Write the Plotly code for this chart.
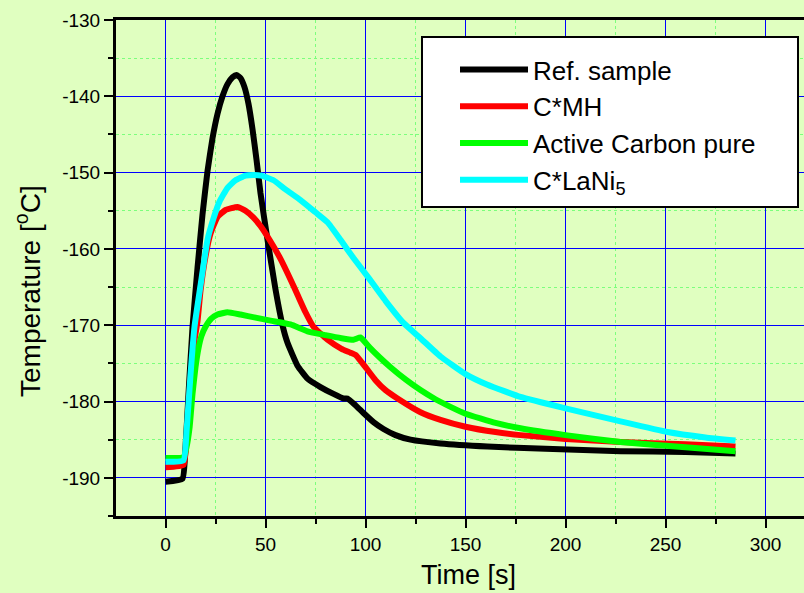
import plotly.graph_objects as go

# ---- data ----
t_ref = [0, 8.5, 10, 11.5, 13.5, 16, 18.5, 21, 23.5, 26, 28.5, 31, 33.5, 35.5, 37.5, 39.5, 41.5,
         43.5, 45.5, 47.5, 51, 55, 58.5, 61, 66, 71, 77.5, 84, 89, 91, 95, 99, 104, 109, 115,
         122.5, 137.5, 161, 190, 227.5, 260, 285]
T_ref = [-190.5, -190.1, -186, -179, -170.3, -162.5, -155.5, -149.8, -145.5, -142.3, -140,
         -138.4, -137.5, -137.2, -137.6, -138.8, -141, -144.3, -148.3, -152.7, -158.8, -165.3,
         -170, -172.3, -175.3, -177, -178.1, -179, -179.6, -179.6, -180.5, -181.5, -182.7,
         -183.6, -184.4, -185, -185.5, -185.9, -186.2, -186.5, -186.6, -186.8]

t_mh = [0, 9, 10.5, 12.5, 14.5, 16, 17.5, 20, 22.5, 26, 30, 36, 40, 44, 47.5, 52, 57.5, 62.5,
        66, 70, 74, 81, 88, 92.5, 95, 100, 105, 110, 116, 127.5, 137.5, 150, 165, 177.5, 200,
        227.5, 260, 285]
T_mh = [-188.6, -188.3, -185, -177, -172, -169.5, -165.5, -161, -158, -155.8, -154.9, -154.5,
        -155, -155.9, -157, -158.8, -161.3, -164, -166, -168.3, -170.2, -171.9, -173.1, -173.6,
        -173.9, -175.5, -177.2, -178.5, -179.6, -181.4, -182.4, -183.3, -184, -184.4, -184.9,
        -185.3, -185.6, -185.9]

t_ac = [0, 9, 10.5, 12, 13.5, 15, 16.5, 18, 20, 23, 26, 31, 37.5, 45, 52.5, 62.5, 71, 80, 88,
        94, 97.5, 102, 107, 112.5, 120, 127.5, 135, 142.5, 150, 165, 177.5, 200, 227.5, 260, 285]
T_ac = [-187.4, -187.3, -186, -183.5, -179, -175.5, -173, -171.4, -170.2, -169.1, -168.6,
        -168.3, -168.6, -169, -169.4, -169.9, -170.8, -171.3, -171.7, -171.9, -171.6, -172.9,
        -174.2, -175.5, -177.1, -178.5, -179.7, -180.7, -181.6, -182.8, -183.5, -184.4, -185.3,
        -186, -186.5]

t_la = [0, 9, 10.5, 12.5, 14.5, 17.5, 21, 24, 27, 31, 35, 40, 44, 48, 54, 60, 67.5, 75, 81,
        87.5, 94, 101, 110, 119, 127.5, 137.5, 150, 161, 177.5, 200, 227.5, 251, 270, 285]
T_la = [-187.9, -187.7, -184, -176.5, -170.2, -164.8, -158.8, -156, -153.8, -152, -151, -150.4,
        -150.3, -150.4, -151, -152.2, -153.6, -155.2, -156.5, -158.8, -161.2, -163.6, -166.8,
        -169.7, -171.7, -174.1, -176.4, -177.8, -179.4, -180.9, -182.6, -184, -184.7, -185.1]

names = ["Ref. sample", "C*MH", "Active Carbon pure", "C*LaNi<sub>5</sub>"]
colors = ["#000000", "#FF0000", "#00FF00", "#00FFFF"]

x_ticks = [0, 50, 100, 150, 200, 250, 300]
x_minor = [25, 75, 125, 175, 225, 275]
y_ticks = [-190, -180, -170, -160, -150, -140, -130]
y_minor = [-195, -185, -175, -165, -155, -145, -135]

x_title = "Time [s]"
y_title = "Temperature [<sup>o</sup>C]"

FONT = "'Liberation Sans', Arial, sans-serif"
BG = "rgb(224,255,192)"

W, H = 804, 593
ML, MR, MT, MB = 116, 0, 20, 77
PW, PH = W - ML - MR, H - MT - MB


def px_x(p):
    return (p - ML) / PW


def px_y(p):
    return 1 - (p - MT) / PH


fig = go.Figure()
for i, (tx, ty) in enumerate([(t_ref, T_ref), (t_mh, T_mh), (t_ac, T_ac), (t_la, T_la)]):
    fig.add_trace(go.Scatter(
        x=tx, y=ty, mode="lines", name=names[i], legendgroup=f"g{i}",
        line=dict(color=colors[i], width=6, shape="spline", smoothing=0.4),
    ))

# legend frame
fig.add_shape(type="rect", xref="paper", yref="paper",
              x0=px_x(422), x1=px_x(798), y0=px_y(207), y1=px_y(37),
              fillcolor="white", line=dict(color="black", width=2), layer="above")

# axis titles (placed like the reference, slightly off-centre)
fig.add_annotation(text=x_title, xref="paper", yref="paper", x=px_x(468), y=px_y(575),
                   xanchor="center", yanchor="middle", showarrow=False,
                   font=dict(size=27, family=FONT, color="black"))
fig.add_annotation(text=y_title, xref="paper", yref="paper", x=px_x(28), y=px_y(291),
                   xanchor="center", yanchor="middle", showarrow=False, textangle=-90,
                   font=dict(size=28, family=FONT, color="black"))

fig.update_layout(
    width=W, height=H,
    margin=dict(l=ML, r=MR, t=MT, b=MB),
    paper_bgcolor=BG, plot_bgcolor=BG,
    font=dict(family=FONT, color="black", size=19),
    legend=dict(
        x=px_x(455), y=px_y(46), xanchor="left", yanchor="top",
        bgcolor="rgba(0,0,0,0)", borderwidth=0,
        font=dict(size=26, family=FONT), itemwidth=68, tracegroupgap=0,
    ),
    showlegend=True,
)

fig.update_xaxes(
    range=[-24.75, 319.25], tickvals=x_ticks, ticktext=[str(v) for v in x_ticks],
    showline=True, linecolor="black", linewidth=3, mirror=True,
    ticks="outside", ticklen=9, tickwidth=2, tickcolor="black",
    showgrid=True, gridcolor="#0000FF", gridwidth=1.2, zeroline=False,
    minor=dict(tickvals=x_minor, ticks="outside", ticklen=5, tickwidth=2, tickcolor="black",
               showgrid=True, gridcolor="#7CFF7C", griddash="dot", gridwidth=1),
    automargin=False, tickfont=dict(size=19),
)
fig.update_yaxes(
    range=[-195, -130], tickvals=y_ticks, ticktext=[str(v) for v in y_ticks],
    showline=True, linecolor="black", linewidth=3, mirror=False,
    ticks="outside", ticklen=9, tickwidth=2, tickcolor="black",
    showgrid=True, gridcolor="#0000FF", gridwidth=1.2, zeroline=False,
    minor=dict(tickvals=y_minor, ticks="outside", ticklen=5, tickwidth=2, tickcolor="black",
               showgrid=True, gridcolor="#7CFF7C", griddash="dot", gridwidth=1),
    automargin=False, tickfont=dict(size=19),
)

fig.write_html("out.html", config={"displayModeBar": False},
               post_script="document.body.style.margin='0px';document.body.style.padding='0px';")
